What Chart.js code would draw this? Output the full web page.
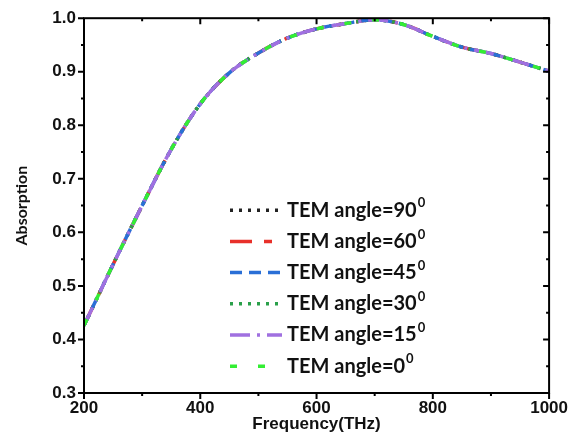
<!DOCTYPE html>
<html><head><meta charset="utf-8">
<script src="https://cdn.jsdelivr.net/npm/chart.js@4/dist/chart.umd.min.js"></script>
<style>html,body{margin:0;padding:0;background:#fff}#wrap{width:573px;height:444px}</style>
</head><body><div id="wrap"><canvas id="c" width="573" height="444"></canvas></div>
<script>
const frequency = [200,250,300,350,400,450,500,550,600,650,700,750,800,850,900,950,1000];
const absorption = [0.426,0.54,0.65,0.755,0.84,0.898,0.935,0.963,0.98,0.99,0.997,0.988,0.966,0.946,0.934,0.918,0.901];
const angles = [90,60,45,30,15,0];
const seriesColors = ['#222222','#e8302a','#2a6fd6','#2aa04a','#a070e0','#33ee33'];
const seriesDash = [[3,6],[22,12,8,12],[12,7],[3,6],[20,7,3,7],[7,21]];
const drawOrder = [6,5,3,4,2,1];
const xTicks = [200,400,600,800,1000];
const yTicks = [0.3,0.4,0.5,0.6,0.7,0.8,0.9,1.0];

const datasets = angles.map((a,i)=>({
  label: 'TEM angle=' + a,
  data: frequency.map((f,j)=>({x:f,y:absorption[j]})),
  borderColor: seriesColors[i],
  borderDash: seriesDash[i],
  borderWidth: 3.5,
  pointRadius: 0,
  fill: false,
  cubicInterpolationMode: 'monotone',
  order: drawOrder[i]
}));

const frame = {
  id:'frame',
  afterDatasetsDraw(chart){
    const ctx = chart.ctx, a = chart.chartArea, xs = chart.scales.x, ys = chart.scales.y;
    ctx.save();
    ctx.strokeStyle = '#000'; ctx.lineWidth = 2; ctx.setLineDash([]);
    ctx.strokeRect(a.left, a.top, a.right-a.left, a.bottom-a.top);
    ctx.beginPath();
    for (let v=200; v<=1000; v+=100){
      const px = xs.getPixelForValue(v);
      const L = (v % 200 === 0) ? 6 : 3;
      ctx.moveTo(px, a.bottom); ctx.lineTo(px, a.bottom + L);
      ctx.moveTo(px, a.top); ctx.lineTo(px, a.top + L);
    }
    for (let k=0; k<=14; k++){
      const v = 0.3 + k*0.05;
      const py = ys.getPixelForValue(v);
      const L = (k % 2 === 0) ? 6 : 3;
      ctx.moveTo(a.left, py); ctx.lineTo(a.left - L, py);
      ctx.moveTo(a.right, py); ctx.lineTo(a.right - L, py);
    }
    ctx.stroke();
    // legend
    const x0 = a.left + 146, x1 = a.left + 198, tx = a.left + 203;
    chart.data.datasets.forEach((ds,i)=>{
      const y = a.top + 192 + i*31.2;
      ctx.strokeStyle = ds.borderColor; ctx.lineWidth = 3.5;
      ctx.setLineDash(ds.borderDash);
      ctx.beginPath(); ctx.moveTo(x0,y); ctx.lineTo(x1,y); ctx.stroke();
      ctx.setLineDash([]);
      ctx.fillStyle = '#111';
      ctx.font = 'bold 20px Lato';
      ctx.textBaseline = 'middle'; ctx.textAlign = 'left';
      ctx.fillText(ds.label, tx, y);
      const w = ctx.measureText(ds.label).width;
      ctx.font = 'bold 13px Lato';
      ctx.fillText('0', tx + w + 1, y - 7);
    });
    ctx.restore();
  }
};

new Chart(document.getElementById('c'), {
  type:'line',
  data:{datasets},
  options:{
    responsive:false, animation:false,
    layout:{padding:{left:0,right:20,top:15,bottom:0}},
    plugins:{legend:{display:false},tooltip:{enabled:false}},
    scales:{
      x:{type:'linear',min:200,max:1000,
        afterBuildTicks(s){s.ticks = xTicks.map(v=>({value:v}));},
        afterFit(s){s.height = 51;},
        grid:{display:false, drawTicks:false}, border:{display:false},
        ticks:{color:'#111',font:{family:'Liberation Sans',weight:'bold',size:17},padding:5,maxRotation:0,autoSkip:false,callback:v=>String(v)},
        title:{display:true,text:'Frequency(THz)',color:'#111',font:{family:'Liberation Sans',weight:'bold',size:17},padding:{top:0,bottom:9}}
      },
      y:{min:0.3,max:1.0,
        afterBuildTicks(s){s.ticks = yTicks.map(v=>({value:v}));},
        afterFit(s){s.width = 84;},
        grid:{display:false, drawTicks:false}, border:{display:false},
        ticks:{color:'#111',font:{family:'Liberation Sans',weight:'bold',size:17},padding:8,autoSkip:false,callback:v=>Number(v).toFixed(1)},
        title:{display:true,text:'Absorption',color:'#111',font:{family:'Lato',weight:'bold',size:16},padding:{top:12,bottom:0}}
      }
    }
  },
  plugins:[frame]
});
</script></body></html>
